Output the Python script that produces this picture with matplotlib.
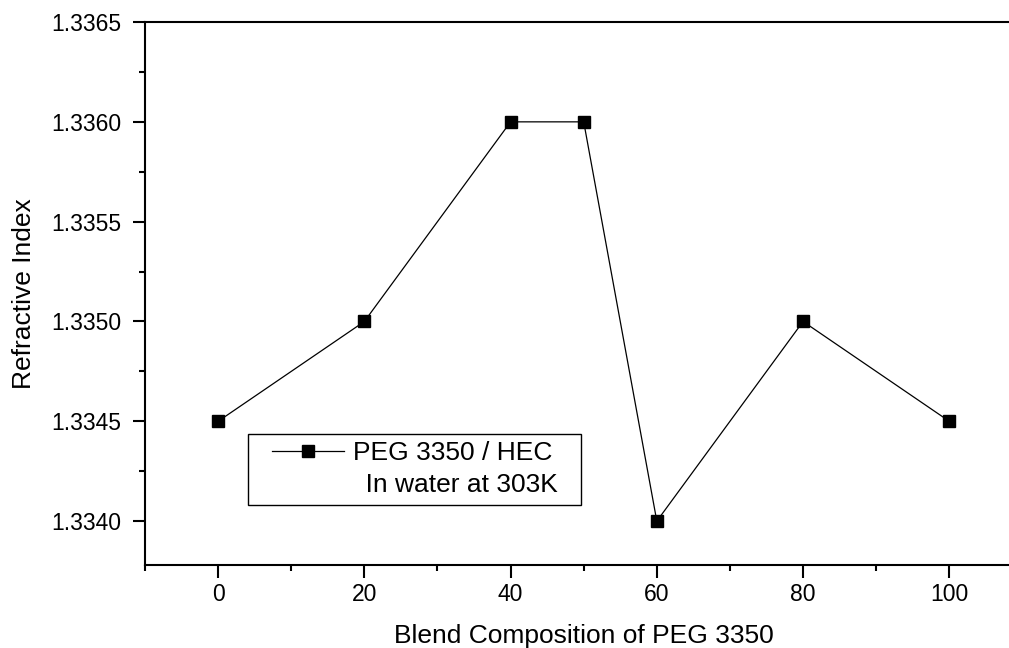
import matplotlib
matplotlib.use("Agg")
import matplotlib.pyplot as plt
from matplotlib.lines import Line2D
from matplotlib.legend_handler import HandlerLine2D
from matplotlib.ticker import MultipleLocator, FormatStrFormatter

composition = [0, 20, 40, 50, 60, 80, 100]
refractive_index = [1.3345, 1.3350, 1.3360, 1.3360, 1.3340, 1.3350, 1.3345]
series_label = "PEG 3350 / HEC"
note_label = "In water at 303K"
x_label = "Blend Composition of PEG 3350"
y_label = "Refractive Index"

plt.rcParams['font.family'] = ['Liberation Sans', 'DejaVu Sans']

fig = plt.figure(figsize=(10.09, 6.48), dpi=100)
ax = fig.add_axes([0.1437, 0.128, 0.8696, 0.838])

line, = ax.plot(composition, refractive_index, color='black', linewidth=0.9,
                marker='s', markersize=8, markerfacecolor='black', markeredgecolor='black')

ax.set_xlim(-10, 110)
ax.set_ylim(1.33378, 1.3365)
ax.xaxis.set_major_locator(MultipleLocator(20))
ax.xaxis.set_minor_locator(MultipleLocator(10))
ax.yaxis.set_major_locator(MultipleLocator(0.0005))
ax.yaxis.set_minor_locator(MultipleLocator(0.00025))
ax.yaxis.set_major_formatter(FormatStrFormatter('%.4f'))

for s in ax.spines.values():
    s.set_linewidth(1.5)
ax.tick_params(axis='y', which='major', direction='out', length=9, width=1.5, labelsize=16.5, pad=8)
ax.tick_params(axis='x', which='major', direction='out', length=9, width=1.5, labelsize=16.5, pad=4)
ax.tick_params(which='minor', direction='out', length=4.5, width=1.5)

ax.set_xlabel(x_label, fontsize=19, labelpad=13)
ax.set_ylabel(y_label, fontsize=19)
ax.yaxis.set_label_coords(-0.1242, 0.5)

blank = Line2D([], [], linestyle='none', marker=None)
leg = ax.legend([line, blank], [series_label, " \u2009" + note_label + "  "], loc='lower left',
                bbox_to_anchor=(0.117, 0.11), borderaxespad=0, fontsize=19,
                fancybox=False, framealpha=1, edgecolor='black', handlelength=3.35,
                borderpad=0.3, labelspacing=0.3, handletextpad=0.35,
                handler_map={line: HandlerLine2D(xpad=0.62)})
leg.get_frame().set_linewidth(1.0)

fig.savefig("out.png", dpi=100)
